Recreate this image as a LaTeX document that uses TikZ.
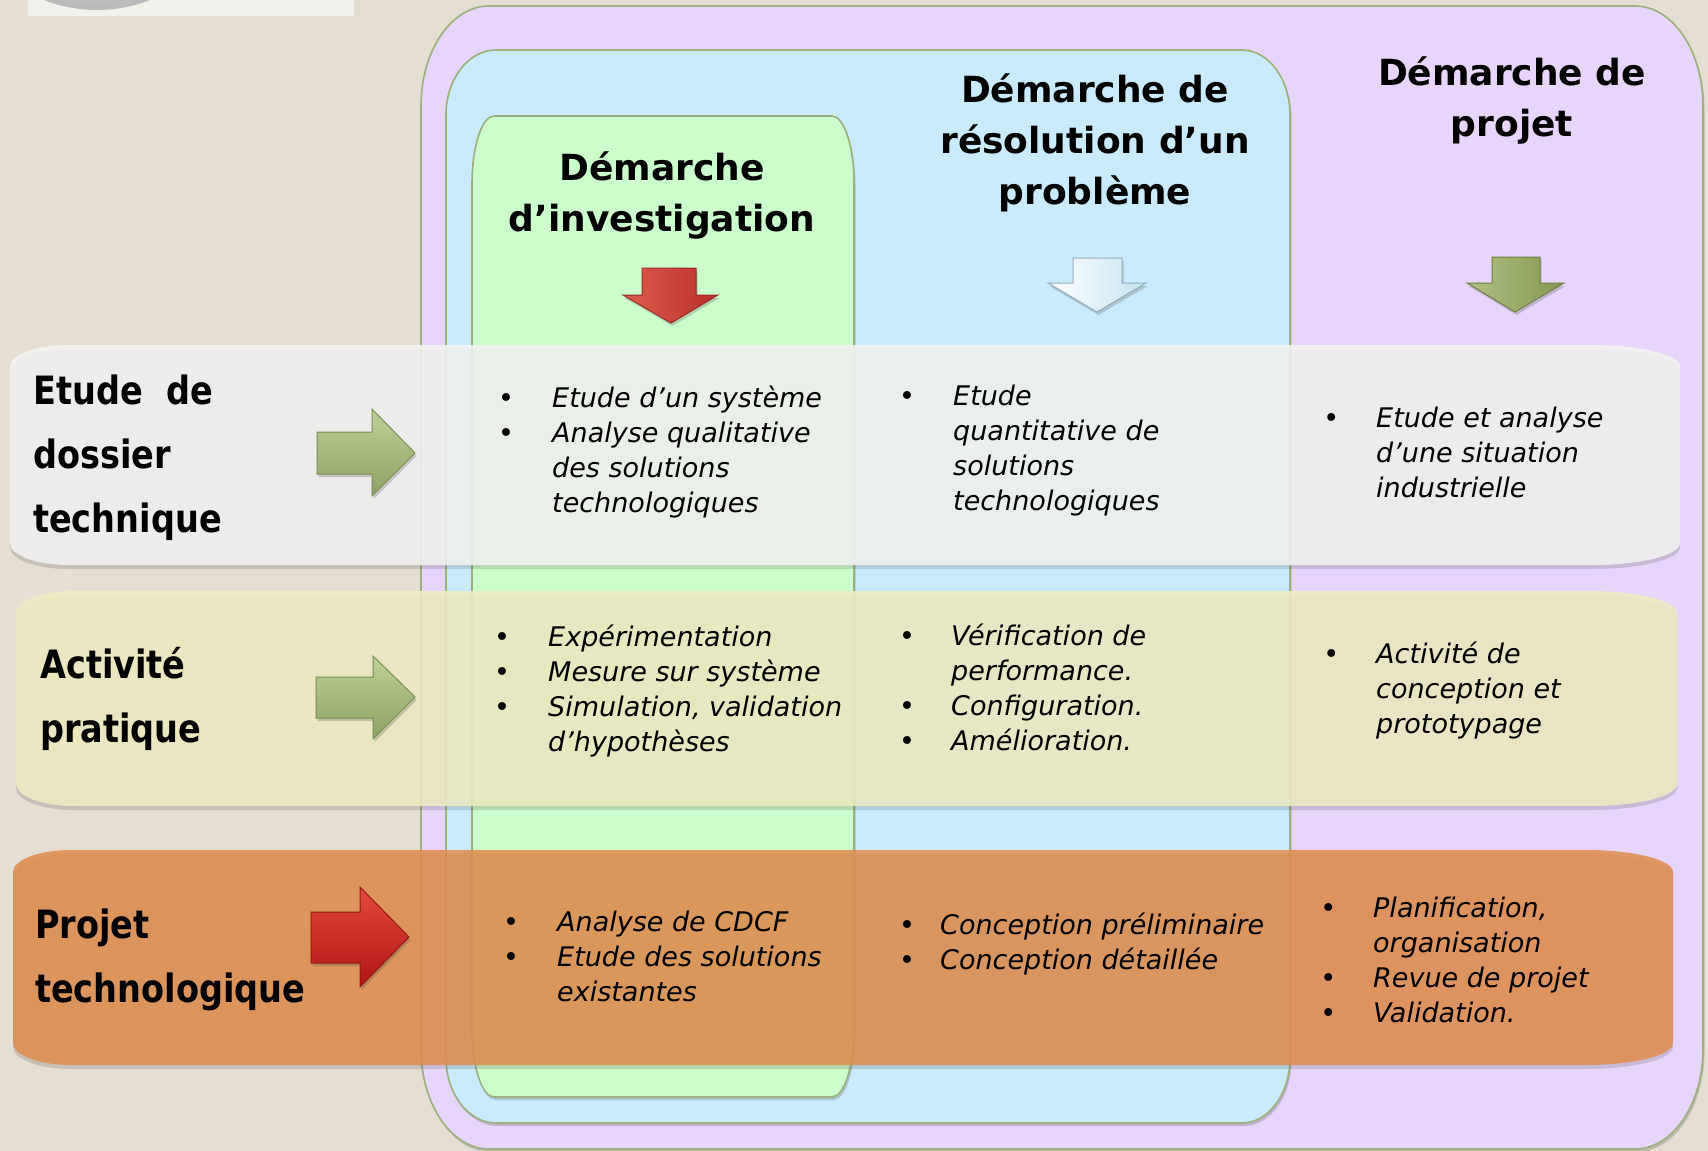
\documentclass[tikz,border=0pt]{standalone}
\usepackage{fontspec}
\setmainfont{DejaVu Sans}
\newfontfamily\labfont[FakeStretch=0.86]{DejaVu Sans}
\usetikzlibrary{shadows}
\definecolor{bgc}{HTML}{E5DED3}
\definecolor{logoc}{HTML}{F3F1EC}
\definecolor{purplec}{HTML}{E8D5FB}
\definecolor{bluec}{HTML}{C9EBFD}
\definecolor{greenc}{HTML}{CCFDCC}
\definecolor{olivec}{HTML}{9BB07C}
\definecolor{bandA}{HTML}{F3F3F1}
\definecolor{bandB}{HTML}{EEECC2}
\definecolor{bandC}{HTML}{DF8E50}
\definecolor{garT}{HTML}{BED196}
\definecolor{garB}{HTML}{8DA265}
\definecolor{garD}{HTML}{7A8E55}
\definecolor{rarT}{HTML}{E2483C}
\definecolor{rarB}{HTML}{B01712}
\definecolor{rarD}{HTML}{8E1A14}
\definecolor{drT}{HTML}{DE5C4C}
\definecolor{drB}{HTML}{B8302A}
\definecolor{drD}{HTML}{9A2A22}
\definecolor{dbT}{HTML}{FFFFFF}
\definecolor{dbB}{HTML}{C4E4F2}
\definecolor{dbD}{HTML}{94AEBE}
\definecolor{doT}{HTML}{AFC084}
\definecolor{doB}{HTML}{85984F}
\definecolor{doD}{HTML}{6E7E45}
% elliptic rounded rectangle: [opts]{x1}{y1}{x2}{y2}{rx left}{rx right}{ry}
\newcommand\erect[8][]{%
 \pgfmathsetmacro\erXa{#2+#6}%
 \pgfmathsetmacro\erXb{#4-#7}%
 \pgfmathsetmacro\erYc{#3+#8}%
 \pgfmathsetmacro\erYd{#5-#8}%
 \pgfmathsetmacro\erXe{#2+0.4477*#6}%
 \pgfmathsetmacro\erXf{#4-0.4477*#7}%
 \pgfmathsetmacro\erYg{#3+0.4477*#8}%
 \pgfmathsetmacro\erYh{#5-0.4477*#8}%
 \path[#1] (\erXa,#3) -- (\erXb,#3) .. controls (\erXf,#3) and (#4,\erYg) .. (#4,\erYc)
   -- (#4,\erYd) .. controls (#4,\erYh) and (\erXf,#5) .. (\erXb,#5)
   -- (\erXa,#5) .. controls (\erXe,#5) and (#2,\erYh) .. (#2,\erYd)
   -- (#2,\erYc) .. controls (#2,\erYg) and (\erXe,#3) .. (\erXa,#3) -- cycle;}
\newcommand\bul{\makebox[16pt]{\upshape •}}
\newcommand\blist[2]{\begin{tabular}[t]{@{}l@{\hspace{#1}}l@{}}#2\end{tabular}}
\begin{document}
\begin{tikzpicture}[x=1pt,y=-1pt,
 boxline/.style={draw=olivec, line width=1.6pt},
 shad/.style={drop shadow={opacity=0.25, shadow xshift=1.5pt, shadow yshift=-3pt, fill=black!70}},
 bandshad/.style={drop shadow={opacity=0.2, shadow xshift=0pt, shadow yshift=-4pt, fill=black!70}},
 headtxt/.style={font=\fontsize{36pt}{51pt}\selectfont\bfseries, anchor=base, inner sep=0pt},
 rowlab/.style={font=\labfont\fontsize{39pt}{64pt}\selectfont\bfseries, anchor=base west, inner sep=0pt},
 bodytxt/.style={font=\fontsize{27pt}{35pt}\selectfont\itshape, anchor=base west, inner sep=0pt},
 garrow/.style={top color=garT, bottom color=garB, draw=garD, line width=1pt, shad},
 rarrow/.style={top color=rarT, bottom color=rarB, draw=rarD, line width=1pt, shad},
 dred/.style={left color=drT, right color=drB, draw=drD, line width=1pt, shad},
 dblue/.style={left color=dbT, right color=dbB, draw=dbD, line width=1pt, shad},
 dolive/.style={left color=doT, right color=doB, draw=doD, line width=1pt, shad}]
\useasboundingbox (0,0) rectangle (1708,1151);
\fill[bgc] (0,0) rectangle (1708,1151);
% logo strip
\begin{scope}
 \clip (28,0) rectangle (354,16);
 \fill[logoc] (28,0) rectangle (354,16);
 \shade[inner color=gray!10, outer color=gray!55] (97,-135) circle[radius=145];
\end{scope}
% columns
\erect[boxline, fill=purplec, shad]{421}{6}{1703}{1149}{68}{68}{100}
\erect[boxline, fill=bluec, shad]{446}{50}{1290}{1123}{50}{48}{65}
\erect[boxline, fill=greenc, shad]{472}{116}{854}{1097}{22}{22}{68}
% headings
\node[headtxt] (hinv) at (662,180) {\begin{tabular}[t]{@{}c@{}}Démarche\\d’investigation\end{tabular}};
\node[headtxt] (hres) at (1095,102) {\begin{tabular}[t]{@{}c@{}}Démarche de\\résolution d’un\\problème\end{tabular}};
\node[headtxt] (hproj) at (1512,85) {\begin{tabular}[t]{@{}c@{}}Démarche de\\projet\end{tabular}};
% down arrows
\path[dred] (642,268) -- (696,268) -- (696,295) -- (718,295) -- (671,323) -- (623,295) -- (642,295) -- cycle;
\path[dblue] (1073,258) -- (1122,258) -- (1122,283) -- (1146,283) -- (1097,312) -- (1048,283) -- (1073,283) -- cycle;
\path[dolive] (1492,257) -- (1540,257) -- (1540,283) -- (1564,283) -- (1515,312) -- (1467,283) -- (1492,283) -- cycle;
% bands
\erect[fill=bandA, fill opacity=0.88, bandshad]{10}{345}{1680}{565}{58}{87}{22}
\erect[fill=bandB, fill opacity=0.88, bandshad]{16}{591}{1677}{806}{58}{87}{22}
\erect[fill=bandC, fill opacity=0.88, bandshad]{13}{850}{1673}{1065}{58}{87}{22}
% row labels
\node[rowlab] (lab1) at (33,404) {\begin{tabular}[t]{@{}l@{}}Etude\hspace{0.6em}de\\dossier\\technique\end{tabular}};
\node[rowlab] (lab2) at (40,678) {\begin{tabular}[t]{@{}l@{}}Activité\\pratique\end{tabular}};
\node[rowlab] (lab3) at (35,938) {\begin{tabular}[t]{@{}l@{}}Projet\\technologique\end{tabular}};
% right arrows
\path[garrow] (317,432) -- (372,432) -- (372,409) -- (415,453) -- (372,496) -- (372,474) -- (317,474) -- cycle;
\path[garrow] (316,677) -- (373,677) -- (373,656) -- (415,697) -- (373,739) -- (373,718) -- (316,718) -- cycle;
\path[rarrow] (311,912) -- (360,912) -- (360,887) -- (409,937) -- (360,987) -- (360,963) -- (311,963) -- cycle;
% body texts
\node[bodytxt] (r1c1) at (498,407) {\blist{38pt}{\bul & Etude d’un système\\ \bul & Analyse qualitative\\ & des solutions\\ & technologiques}};
\node[bodytxt] (r1c2) at (899,405) {\blist{38pt}{\bul & Etude\\ & quantitative de\\ & solutions\\ & technologiques}};
\node[bodytxt] (r1c3) at (1323,427) {\blist{37pt}{\bul & Etude et analyse\\ & d’une situation\\ & industrielle}};
\node[bodytxt] (r2c1) at (494,646) {\blist{38pt}{\bul & Expérimentation\\ \bul & Mesure sur système\\ \bul & Simulation, validation\\ & d’hypothèses}};
\node[bodytxt] (r2c2) at (899,645) {\blist{36pt}{\bul & Vérification de\\ & performance.\\ \bul & Configuration.\\ \bul & Amélioration.}};
\node[bodytxt] (r2c3) at (1323,663) {\blist{37pt}{\bul & Activité de\\ & conception et\\ & prototypage}};
\node[bodytxt] (r3c1) at (503,931) {\blist{38pt}{\bul & Analyse de CDCF\\ \bul & Etude des solutions\\ & existantes}};
\node[bodytxt] (r3c2) at (899,934) {\blist{25pt}{\bul & Conception préliminaire\\ \bul & Conception détaillée}};
\node[bodytxt] (r3c3) at (1320,917) {\blist{37pt}{\bul & Planification,\\ & organisation\\ \bul & Revue de projet\\ \bul & Validation.}};
\end{tikzpicture}
\end{document}
